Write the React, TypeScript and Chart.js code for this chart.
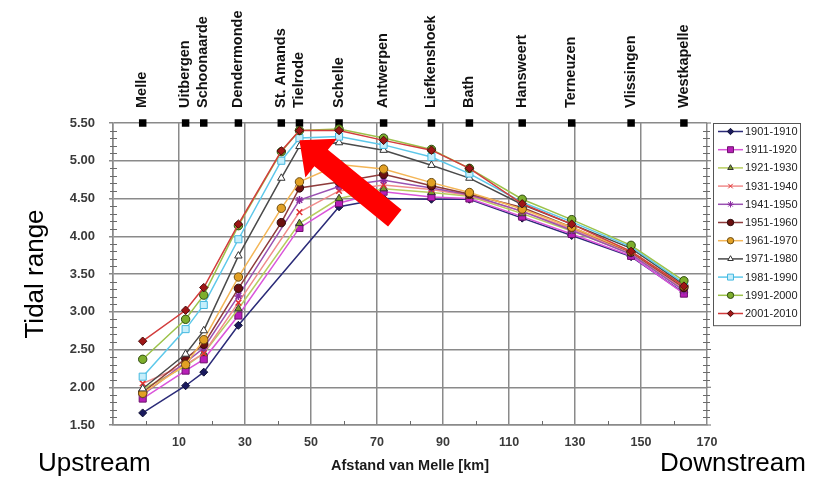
import React, { useEffect, useRef } from 'react';
import { Chart, registerables } from 'chart.js';
import { drawPoint } from 'chart.js/helpers';

Chart.register(...registerables);

// ---------- data ----------
const stations = [
  'Melle', 'Uitbergen', 'Schoonaarde', 'Dendermonde', 'St. Amands', 'Tielrode', 'Schelle',
  'Antwerpen', 'Liefkenshoek', 'Bath', 'Hansweert', 'Terneuzen', 'Vlissingen', 'Westkapelle',
];
const stationKm = [-1, 12, 17.5, 28, 41, 46.5, 58.5, 72, 86.5, 98, 114, 129, 147, 163];
const stationMarkerLevel = 5.5;

const xTicks = [-10, 10, 30, 50, 70, 90, 110, 130, 150, 170];
const yTicks = [1.5, 2.0, 2.5, 3.0, 3.5, 4.0, 4.5, 5.0, 5.5];

const decades = [
  '1901-1910', '1911-1920', '1921-1930', '1931-1940', '1941-1950', '1951-1960',
  '1961-1970', '1971-1980', '1981-1990', '1991-2000', '2001-2010',
];

const r1901 = [1.66, 2.02, 2.20, 2.82, null, null, 4.39, 4.50, 4.49, 4.49, 4.24, 4.01, 3.73, 3.25];
const r1911 = [1.85, 2.22, 2.37, 2.95, null, 4.11, 4.44, 4.59, 4.52, 4.50, 4.26, 4.03, 3.74, 3.24];
const r1921 = [1.97, 2.28, 2.45, 3.04, null, 4.17, 4.50, 4.63, 4.58, 4.53, 4.30, 4.07, 3.77, 3.30];
const r1931 = [2.05, 2.30, 2.45, 3.12, null, 4.32, 4.60, 4.68, 4.62, 4.54, 4.33, 4.10, 3.78, 3.30];
const r1941 = [1.90, 2.33, 2.52, 3.21, null, 4.48, 4.66, 4.74, 4.64, 4.55, 4.33, 4.08, 3.76, 3.28];
const r1951 = [1.93, 2.38, 2.57, 3.31, 4.18, 4.64, 4.72, 4.82, 4.67, 4.56, 4.38, 4.12, 3.79, 3.32];
const r1961 = [1.92, 2.30, 2.63, 3.46, 4.37, 4.72, 4.95, 4.89, 4.71, 4.58, 4.36, 4.12, 3.80, 3.34];
const r1971 = [1.98, 2.44, 2.75, 3.74, 4.77, 5.19, 5.24, 5.14, 4.94, 4.77, 4.42, 4.16, 3.84, 3.36];
const r1981 = [2.14, 2.77, 3.09, 3.96, 5.00, 5.30, 5.32, 5.21, 5.05, 4.83, 4.45, 4.19, 3.86, 3.38];
const r1991 = [2.37, 2.90, 3.22, 4.14, 5.12, 5.40, 5.42, 5.30, 5.15, 4.90, 4.49, 4.22, 3.88, 3.41];
const r2001 = [2.61, 3.02, 3.32, 4.16, 5.13, 5.40, 5.40, 5.27, 5.14, 4.90, 4.43, 4.16, 3.80, 3.34];

const seriesValues = [r1901, r1911, r1921, r1931, r1941, r1951, r1961, r1971, r1981, r1991, r2001];

// annotation arrow (data coordinates)
const arrowTip = { x: 46.5, y: 5.27 };
const arrowTail = { x: 75.4, y: 4.24 };

// ---------- styles ----------
const styles = [
  { line: '#2B2B78', style: 'rectRot', fill: '#1A1A5E', stroke: '#111133', r: 4 },
  { line: '#DA55DA', style: 'rect', fill: '#B81FB8', stroke: '#6E126E', r: 5 },
  { line: '#B7CE5E', style: 'triangle', fill: '#7A9A2A', stroke: '#333333', r: 4.3 },
  { line: '#F08C8C', style: 'crossRot', fill: '#E03030', stroke: '#E03030', r: 4 },
  { line: '#9A52B2', style: 'star', fill: '#8A2BA0', stroke: '#8A2BA0', r: 4 },
  { line: '#8E3B3B', style: 'circle', fill: '#6B1010', stroke: '#2A0A0A', r: 4.2 },
  { line: '#F4B657', style: 'circle', fill: '#E2A024', stroke: '#6A4A10', r: 4.2 },
  { line: '#4A4A4A', style: 'triangle', fill: '#FFFFFF', stroke: '#333333', r: 4.3 },
  { line: '#5DC8EA', style: 'rect', fill: '#C6EEFB', stroke: '#44B8E0', r: 5 },
  { line: '#9CC24A', style: 'circle', fill: '#7DAE2C', stroke: '#2F4A10', r: 4.2 },
  { line: '#D23C3C', style: 'rectRot', fill: '#9E1616', stroke: '#4A0A0A', r: 4.2 },
];

const FONT = "'Liberation Sans', Arial, sans-serif";
const GRID = '#8A8A8A';

const minorTicksPlugin = {
  id: 'minorTicks',
  beforeDatasetsDraw(chart: any) {
    const { ctx, chartArea, scales } = chart;
    const y = scales.y;
    const x = scales.x;
    ctx.save();
    ctx.strokeStyle = '#6A6A6A';
    ctx.lineWidth = 1;
    for (let k = 15; k <= 55; k++) {
      if (k % 5 === 0) continue;
      const py = Math.round(y.getPixelForValue(k / 10)) + 0.5;
      ctx.beginPath();
      ctx.moveTo(chartArea.left - 3, py);
      ctx.lineTo(chartArea.left + 4, py);
      ctx.moveTo(chartArea.right - 4, py);
      ctx.lineTo(chartArea.right + 3, py);
      ctx.stroke();
    }
    for (let v = 0; v <= 160; v += 20) {
      const px = Math.round(x.getPixelForValue(v)) + 0.5;
      ctx.beginPath();
      ctx.moveTo(px, chartArea.bottom);
      ctx.lineTo(px, chartArea.bottom - 4);
      ctx.stroke();
    }
    for (const v of yTicks) {
      const py = y.getPixelForValue(v);
      ctx.beginPath();
      ctx.moveTo(chartArea.right, py);
      ctx.lineTo(chartArea.right + 4, py);
      ctx.stroke();
    }
    ctx.restore();
  },
};

const arrowPlugin = {
  id: 'arrowNote',
  afterDatasetsDraw(chart: any) {
    const { ctx, scales } = chart;
    const tx = scales.x.getPixelForValue(arrowTip.x);
    const ty = scales.y.getPixelForValue(arrowTip.y);
    const ex = scales.x.getPixelForValue(arrowTail.x);
    const ey = scales.y.getPixelForValue(arrowTail.y);
    const L = Math.hypot(ex - tx, ey - ty);
    const dx = (ex - tx) / L;
    const dy = (ey - ty) / L;
    const nx = -dy;
    const ny = dx;
    const headLen = 28;
    const headHalf = 25;
    const shaftHalf = 10.7;
    const bx = tx + dx * headLen;
    const by = ty + dy * headLen;
    ctx.save();
    ctx.fillStyle = '#FF0000';
    ctx.beginPath();
    ctx.moveTo(tx, ty);
    ctx.lineTo(bx + nx * headHalf, by + ny * headHalf);
    ctx.lineTo(bx + nx * shaftHalf, by + ny * shaftHalf);
    ctx.lineTo(ex + nx * shaftHalf, ey + ny * shaftHalf);
    ctx.lineTo(ex - nx * shaftHalf, ey - ny * shaftHalf);
    ctx.lineTo(bx - nx * shaftHalf, by - ny * shaftHalf);
    ctx.lineTo(bx - nx * headHalf, by - ny * headHalf);
    ctx.closePath();
    ctx.fill();
    ctx.restore();
  },
};

const legendPlugin = {
  id: 'boxLegend',
  afterDraw(chart: any) {
    const { ctx, chartArea } = chart;
    const left = chartArea.right + 6;
    const top = chartArea.top;
    const w = 87;
    const rowH = 18.2;
    const n = decades.length;
    const h = n * rowH + 2;
    ctx.save();
    ctx.fillStyle = '#FFFFFF';
    ctx.fillRect(left, top, w, h);
    ctx.strokeStyle = '#555555';
    ctx.lineWidth = 1;
    ctx.strokeRect(Math.round(left) + 0.5, Math.round(top) + 0.5, w, h);
    ctx.font = `11px ${FONT}`;
    ctx.textBaseline = 'middle';
    ctx.textAlign = 'left';
    decades.forEach((label, i) => {
      const s = styles[i];
      const cy = top + 8.5 + i * rowH;
      ctx.strokeStyle = s.line;
      ctx.lineWidth = 1.5;
      ctx.beginPath();
      ctx.moveTo(left + 5, cy);
      ctx.lineTo(left + 30, cy);
      ctx.stroke();
      ctx.fillStyle = s.fill;
      ctx.strokeStyle = s.stroke;
      ctx.lineWidth = 1;
      const rr = s.style === 'rect' ? 4.2 : 3.2;
      drawPoint(ctx, { pointStyle: s.style, rotation: 0, radius: rr, borderWidth: 1 } as any, left + 17.5, cy);
      ctx.fillStyle = '#222222';
      ctx.fillText(label, left + 32, cy + 0.5);
    });
    ctx.restore();
  },
};

const sideLabelsPlugin = {
  id: 'sideLabels',
  afterDraw(chart: any) {
    const { ctx } = chart;
    ctx.save();
    ctx.fillStyle = '#000000';
    ctx.font = `26px ${FONT}`;
    ctx.textBaseline = 'alphabetic';
    ctx.textAlign = 'left';
    ctx.fillText('Upstream', 38, 471);
    ctx.fillText('Downstream', 660, 471);
    ctx.restore();
  },
};

export default function App() {
  const ref = useRef<HTMLCanvasElement | null>(null);

  useEffect(() => {
    if (!ref.current) return;
    Chart.defaults.font.family = FONT;

    const lineSets = seriesValues.map((vals, i) => {
      const s = styles[i];
      return {
        label: decades[i],
        data: stationKm.map((km, j) => ({ x: km, y: vals[j] })),
        borderColor: s.line,
        backgroundColor: s.fill,
        borderWidth: 1.5,
        pointStyle: s.style,
        pointRadius: s.r,
        pointBackgroundColor: s.fill,
        pointBorderColor: s.stroke,
        pointBorderWidth: s.style === 'crossRot' || s.style === 'star' ? 1.5 : 1,
        spanGaps: true,
        tension: 0,
        order: decades.length - i,
      };
    });

    const stationSet = {
      label: 'stations',
      data: stationKm.map((km) => ({ x: km, y: stationMarkerLevel })),
      showLine: false,
      pointStyle: 'rect',
      pointRadius: 5.3,
      pointBackgroundColor: '#000000',
      pointBorderColor: '#000000',
      pointBorderWidth: 0,
      borderColor: '#000000',
      clip: false,
      order: 100,
    };

    const chart = new Chart(ref.current, {
      type: 'line',
      data: { datasets: [...lineSets, stationSet] as any },
      options: {
        animation: false,
        responsive: false,
        devicePixelRatio: 1,
        layout: { padding: { left: 0, right: 127, top: 0, bottom: 0 } },
        plugins: { legend: { display: false }, tooltip: { enabled: false } },
        scales: {
          x: {
            type: 'linear',
            position: 'bottom',
            min: -10,
            max: 170,
            afterBuildTicks: (s: any) => { s.ticks = xTicks.map((v) => ({ value: v })); },
            afterFit: (s: any) => { s.height = 53; },
            ticks: {
              autoSkip: false,
              maxRotation: 0,
              padding: 10,
              color: '#3A3A3A',
              font: { size: 12.5, weight: 'bold' },
              callback: (v: any) => (v === -10 ? '' : String(v)),
            },
            grid: { color: GRID, lineWidth: 1.5, drawTicks: false },
            border: { color: GRID, width: 1.5 },
            title: {
              display: true,
              text: 'Afstand van Melle [km]',
              color: '#1A1A1A',
              font: { size: 14.5, weight: 'bold' },
              padding: { top: 0, bottom: 3 },
            },
          },
          xTop: {
            type: 'linear',
            position: 'top',
            min: -10,
            max: 170,
            afterBuildTicks: (s: any) => { s.ticks = stationKm.map((v) => ({ value: v })); },
            afterFit: (s: any) => { s.height = 123; },
            ticks: {
              autoSkip: false,
              minRotation: 90,
              maxRotation: 90,
              padding: 15,
              labelOffset: 17,
              color: '#111111',
              font: { size: 14.5, weight: 'bold' },
              callback: (_v: any, i: number) => stations[i],
            },
            grid: { display: false, drawTicks: false },
            border: { display: false },
          },
          y: {
            min: 1.5,
            max: 5.5,
            afterBuildTicks: (s: any) => { s.ticks = yTicks.map((v) => ({ value: v })); },
            afterFit: (s: any) => { s.width = 113; },
            ticks: {
              padding: 14,
              color: '#3A3A3A',
              font: { size: 13, weight: 'bold' },
              callback: (v: any) => Number(v).toFixed(2),
            },
            grid: { color: GRID, lineWidth: 1.5, tickLength: 4 },
            border: { color: GRID, width: 1.5 },
            title: {
              display: true,
              text: 'Tidal range',
              color: '#000000',
              font: { size: 26 },
              padding: { top: 20, bottom: 0 },
            },
          },
        },
      } as any,
      plugins: [minorTicksPlugin, arrowPlugin, legendPlugin, sideLabelsPlugin],
    });

    return () => chart.destroy();
  }, []);

  return (
    <div style={{ position: 'fixed', left: 0, top: 0, width: 834, height: 478, background: '#FFFFFF' }}>
      <canvas ref={ref} width={834} height={478} style={{ display: 'block' }} />
    </div>
  );
}
